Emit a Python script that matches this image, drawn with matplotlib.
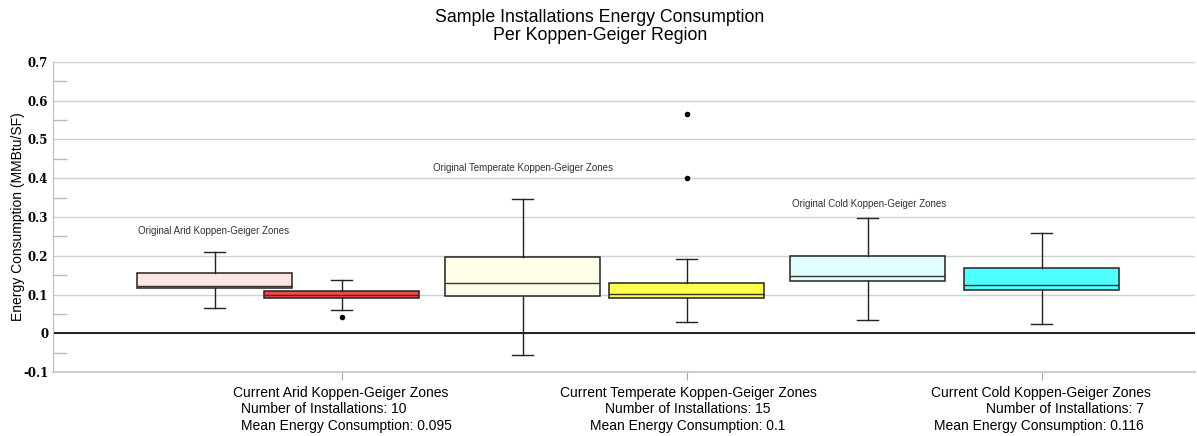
import matplotlib
matplotlib.use("Agg")
import matplotlib.pyplot as plt
from matplotlib.ticker import MultipleLocator

# ---- data ----
box_names = ["Original Arid", "Current Arid", "Original Temperate", "Current Temperate",
             "Original Cold", "Current Cold"]
whislo = [0.064, 0.061, -0.055, 0.028, 0.035, 0.023]
q1     = [0.118, 0.090, 0.096, 0.090, 0.134, 0.111]
med    = [0.122, 0.099, 0.130, 0.102, 0.148, 0.125]
q3     = [0.156, 0.109, 0.196, 0.130, 0.199, 0.169]
whishi = [0.210, 0.137, 0.347, 0.192, 0.297, 0.258]
fliers = [[], [0.041], [], [0.566, 0.401], [], []]
box_colors = ["#FFE4E1", "#FF4545", "#FFFFE8", "#FFFF4D", "#E0FFFF", "#4DFFFF"]

orig_labels = ["Original Arid Koppen-Geiger Zones",
               "Original Temperate Koppen-Geiger Zones",
               "Original Cold Koppen-Geiger Zones"]
current_labels = ["Current Arid Koppen-Geiger Zones",
                  "Current Temperate Koppen-Geiger Zones",
                  "Current Cold Koppen-Geiger Zones"]
n_install = [10, 15, 7]
mean_energy = ["0.095", "0.1", "0.116"]

# layout (pixel-like x units)
positions = [215, 342, 523, 687, 868, 1042]
W, H = 1197, 436

fig = plt.figure(figsize=(W / 100, H / 100), dpi=100)
ax = fig.add_axes([53 / W, (H - 372) / H, (1195 - 53) / W, (372 - 62) / H])

stats = []
for i in range(len(box_names)):
    stats.append(dict(label=box_names[i], whislo=whislo[i], q1=q1[i], med=med[i],
                      q3=q3[i], whishi=whishi[i], fliers=fliers[i]))

bp = ax.bxp(stats, positions=positions, widths=155, patch_artist=True,
            showfliers=True, manage_ticks=False,
            boxprops=dict(edgecolor="#222222", linewidth=1.1),
            medianprops=dict(color="#333333", linewidth=1.0),
            whiskerprops=dict(color="#222222", linewidth=1.0),
            capprops=dict(color="#222222", linewidth=1.0),
            capwidths=21,
            flierprops=dict(marker="o", markersize=3, markerfacecolor="black",
                            markeredgecolor="black"))
for patch, c in zip(bp["boxes"], box_colors):
    patch.set_facecolor(c)

ax.set_xlim(53, 1195)
ax.set_ylim(-0.1, 0.7)
ax.yaxis.set_major_locator(MultipleLocator(0.1))
ax.yaxis.set_minor_locator(MultipleLocator(0.05))
ax.set_yticks([-0.1, 0, 0.1, 0.2, 0.3, 0.4, 0.5, 0.6, 0.7])
ax.set_yticklabels(["-0.1", "0", "0.1", "0.2", "0.3", "0.4", "0.5", "0.6", "0.7"],
                   fontfamily="DejaVu Serif", fontweight="bold", fontsize=8.5)
ax.tick_params(axis="y", which="major", length=0, pad=3.5)
ax.tick_params(axis="y", which="minor", length=10, direction="in", color="#bbbbbb", width=1)
ax.grid(axis="y", which="major", color="#d0d0d0", linewidth=1)
ax.set_axisbelow(True)
ax.axhline(0, color="black", linewidth=1.2, zorder=1.5)

ax.set_xticks([positions[1], positions[3], positions[5]])
ax.set_xticklabels([])
ax.tick_params(axis="x", length=6, color="#aaaaaa", direction="out")

for s in ["top", "right"]:
    ax.spines[s].set_visible(False)
ax.spines["left"].set_color("#bbbbbb")
ax.spines["bottom"].set_color("#cccccc")
ax.spines["bottom"].set_linewidth(1.5)

ax.set_ylabel("Energy Consumption (MMBtu/SF)", fontfamily="Liberation Sans",
              fontsize=10)
ax.yaxis.set_label_coords((25 - 53) / (1195 - 53), 0.5)

# annotations for the original zones
ax.text(138, 0.265, orig_labels[0], fontsize=7, fontfamily="Liberation Sans", color="#333333",
        va="center")
ax.text(433, 0.427, orig_labels[1], fontsize=7, fontfamily="Liberation Sans", color="#333333",
        va="center")
ax.text(792, 0.333, orig_labels[2], fontsize=7, fontfamily="Liberation Sans", color="#333333",
        va="center")

fig.text(600 / W, 1 - 18 / H, "Sample Installations Energy Consumption",
         ha="center", va="center", fontsize=12.8, fontfamily="Liberation Sans")
fig.text(600 / W, 1 - 36 / H, "Per Koppen-Geiger Region",
         ha="center", va="center", fontsize=12.8, fontfamily="Liberation Sans")

# bottom labels
fs = 10
fam = "Liberation Sans"
# arid
fig.text(341 / W, 1 - 393 / H, current_labels[0], ha="center", va="center", fontsize=fs, fontfamily=fam)
fig.text(241 / W, 1 - 409 / H, f"Number of Installations: {n_install[0]}", ha="left", va="center", fontsize=fs, fontfamily=fam)
fig.text(241 / W, 1 - 426 / H, f"Mean Energy Consumption: {mean_energy[0]}", ha="left", va="center", fontsize=fs, fontfamily=fam)
# temperate
fig.text(688 / W, 1 - 393 / H, current_labels[1], ha="center", va="center", fontsize=fs, fontfamily=fam)
fig.text(688 / W, 1 - 409 / H, f"Number of Installations: {n_install[1]}", ha="center", va="center", fontsize=fs, fontfamily=fam)
fig.text(688 / W, 1 - 426 / H, f"Mean Energy Consumption: {mean_energy[1]}", ha="center", va="center", fontsize=fs, fontfamily=fam)
# cold
fig.text(1041 / W, 1 - 393 / H, current_labels[2], ha="center", va="center", fontsize=fs, fontfamily=fam)
fig.text(1144 / W, 1 - 409 / H, f"Number of Installations: {n_install[2]}", ha="right", va="center", fontsize=fs, fontfamily=fam)
fig.text(1144 / W, 1 - 426 / H, f"Mean Energy Consumption: {mean_energy[2]}", ha="right", va="center", fontsize=fs, fontfamily=fam)

fig.savefig("out.png", dpi=100)
